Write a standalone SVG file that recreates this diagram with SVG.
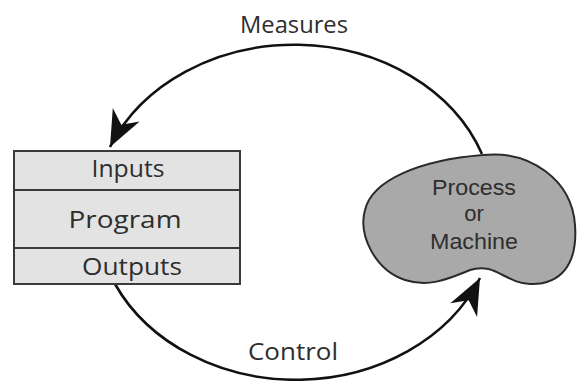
<svg xmlns="http://www.w3.org/2000/svg" width="579" height="381" viewBox="0 0 579 381">
<style>
.t{font-family:"Open Sans","Liberation Sans",sans-serif;font-size:24px;fill:#2e2e2e;text-anchor:middle}
.b{font-family:"Liberation Sans",Arial,sans-serif;font-size:22px;fill:#2e2e2e;text-anchor:middle}
.row{fill:#e3e3e3;stroke:#3a3a3a;stroke-width:2}
.arc{fill:none;stroke:#111;stroke-width:2.6}
</style>
<defs>
<marker id="ah" viewBox="-38 -17 40 34" refX="0" refY="0" markerWidth="40" markerHeight="34" markerUnits="userSpaceOnUse" orient="auto">
<path d="M0,0 L-36,-15 L-25,0 L-36,15 Z" fill="#111"/>
</marker>
</defs>
<rect width="579" height="381" fill="#fff"/>
<g id="connectors">
<path class="arc" d="M482,154 A200,167 0 0 0 110,147" marker-end="url(#ah)"/>
<path class="arc" d="M115,284 A200,167 0 0 0 480,278" marker-end="url(#ah)"/>
<text class="t" x="294" y="33" textLength="108" lengthAdjust="spacingAndGlyphs">Measures</text>
<text class="t" x="293" y="360" textLength="90" lengthAdjust="spacingAndGlyphs">Control</text>
</g>
<g id="program">
<rect class="row" x="14" y="151" width="226" height="39"/>
<rect class="row" x="14" y="190" width="226" height="58"/>
<rect class="row" x="14" y="248" width="226" height="36"/>
<text class="t" x="128" y="177" textLength="73" lengthAdjust="spacingAndGlyphs">Inputs</text>
<text class="t" x="125" y="228" textLength="113" lengthAdjust="spacingAndGlyphs">Program</text>
<text class="t" x="132" y="275" textLength="100" lengthAdjust="spacingAndGlyphs">Outputs</text>
</g>
<g id="process">
<path d="M483,155 C530,150 572,180 575,225 C578,265 560,285 530,284 C505,283 495,262 470,270 C450,278 430,288 405,280 C375,270 358,235 365,210 C372,180 420,160 483,155 Z" fill="#a9a9a9" stroke="#2a2a2a" stroke-width="2"/>
<text class="b" x="474" y="195" textLength="84" lengthAdjust="spacingAndGlyphs">Process</text>
<text class="b" x="474" y="221">or</text>
<text class="b" x="474" y="249" textLength="88" lengthAdjust="spacingAndGlyphs">Machine</text>
</g>
</svg>
